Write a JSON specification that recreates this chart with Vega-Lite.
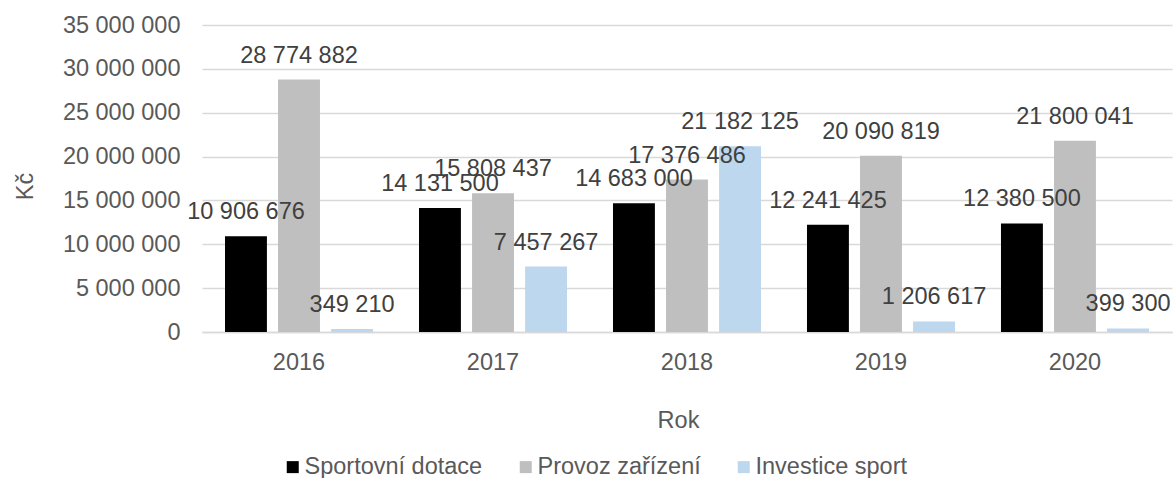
{
  "$schema": "https://vega.github.io/schema/vega-lite/v6.json",
  "width": 970,
  "height": 307,
  "autosize": {"type": "none"},
  "padding": {"left": 202, "top": 25, "right": 2, "bottom": 146},
  "config": {
    "font": "Liberation Sans",
    "view": {"stroke": null},
    "locale": {"number": {"decimal": ",", "thousands": " ", "grouping": [3], "currency": ["", ""]}}
  },
  "data": {
    "values": [
      {"rok": "2016", "kategorie": "Sportovní dotace", "castka": 10906676},
      {"rok": "2016", "kategorie": "Provoz zařízení", "castka": 28774882},
      {"rok": "2016", "kategorie": "Investice sport", "castka": 349210},
      {"rok": "2017", "kategorie": "Sportovní dotace", "castka": 14131500},
      {"rok": "2017", "kategorie": "Provoz zařízení", "castka": 15808437},
      {"rok": "2017", "kategorie": "Investice sport", "castka": 7457267},
      {"rok": "2018", "kategorie": "Sportovní dotace", "castka": 14683000},
      {"rok": "2018", "kategorie": "Provoz zařízení", "castka": 17376486},
      {"rok": "2018", "kategorie": "Investice sport", "castka": 21182125},
      {"rok": "2019", "kategorie": "Sportovní dotace", "castka": 12241425},
      {"rok": "2019", "kategorie": "Provoz zařízení", "castka": 20090819},
      {"rok": "2019", "kategorie": "Investice sport", "castka": 1206617},
      {"rok": "2020", "kategorie": "Sportovní dotace", "castka": 12380500},
      {"rok": "2020", "kategorie": "Provoz zařízení", "castka": 21800041},
      {"rok": "2020", "kategorie": "Investice sport", "castka": 399300}
    ]
  },
  "encoding": {
    "x": {
      "field": "rok", "type": "nominal",
      "scale": {"paddingInner": 0.237, "paddingOuter": 0.1186},
      "axis": {
        "title": "Rok", "labelAngle": 0, "ticks": false,
        "domainColor": "#d9d9d9", "domainWidth": 1.5,
        "labelFont": "Liberation Sans", "labelFontSize": 23.5, "labelColor": "#595959", "labelPadding": 18,
        "titleFont": "Liberation Sans", "titleFontSize": 23.5, "titleFontWeight": "normal", "titleColor": "#595959",
        "titleX": 476, "titleY": 95, "titleBaseline": "alphabetic", "titleAlign": "center"
      }
    },
    "xOffset": {
      "field": "kategorie", "type": "nominal",
      "sort": ["Sportovní dotace", "Provoz zařízení", "Investice sport"],
      "scale": {"paddingInner": 0.21, "paddingOuter": 0}
    },
    "y": {
      "field": "castka", "type": "quantitative",
      "scale": {"domain": [0, 35000000], "nice": false},
      "axis": {
        "title": "Kč", "values": [0, 5000000, 10000000, 15000000, 20000000, 25000000, 30000000, 35000000],
        "format": ",d", "ticks": false, "domain": false,
        "gridColor": "#d9d9d9", "gridWidth": 1.5,
        "labelFont": "Liberation Sans", "labelFontSize": 23.5, "labelColor": "#595959", "labelPadding": 22,
        "titleFont": "Liberation Sans", "titleFontSize": 23.5, "titleFontWeight": "normal", "titleColor": "#595959",
        "titleAngle": -90, "titleX": -170, "titleY": 161, "titleBaseline": "alphabetic", "titleAlign": "center"
      }
    }
  },
  "layer": [
    {
      "mark": {"type": "bar"},
      "encoding": {
        "color": {
          "field": "kategorie", "type": "nominal",
          "sort": ["Sportovní dotace", "Provoz zařízení", "Investice sport"],
          "scale": {"domain": ["Sportovní dotace", "Provoz zařízení", "Investice sport"], "range": ["#000000", "#bfbfbf", "#bdd7ee"]},
          "legend": {
            "title": null, "orient": "none", "direction": "horizontal",
            "legendX": 79, "legendY": 430, "padding": 0,
            "symbolType": "square", "symbolSize": 144, "symbolStrokeWidth": 0,
            "labelFont": "Liberation Sans", "labelFontSize": 23.5, "labelColor": "#595959",
            "labelOffset": 0, "columnPadding": 31, "labelLimit": 400
          }
        }
      }
    },
    {
      "mark": {"type": "text", "baseline": "alphabetic", "dy": -17, "fontSize": 23.5, "color": "#404040", "font": "Liberation Sans"},
      "encoding": {
        "text": {"field": "castka", "type": "quantitative", "format": ",d"}
      }
    }
  ]
}
